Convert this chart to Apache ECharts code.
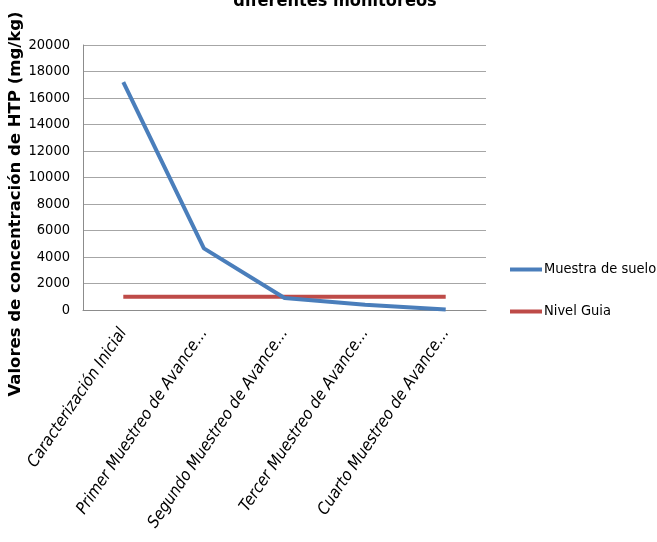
<!DOCTYPE html>
<html>
<head>
<meta charset="utf-8">
<script src="https://cdn.jsdelivr.net/npm/echarts@6/dist/echarts.min.js"></script>
<style>
  html, body { margin: 0; padding: 0; background: #fff; }
  #chart { width: 657px; height: 542px; }
</style>
</head>
<body>
<div id="chart"></div>
<script>
// Monitoring campaigns (category labels as they appear on the axis)
const categories = [
  'Caracterización Inicial',
  'Primer Muestreo de Avance…',
  'Segundo Muestreo de Avance…',
  'Tercer Muestreo de Avance…',
  'Cuarto Muestreo de Avance…'
];
// HTP concentration in the soil sample (mg/kg)
const muestraSuelo = [17200, 4650, 900, 400, 30];
// Guideline level (mg/kg)
const nivelGuia = [1000, 1000, 1000, 1000, 1000];
// Y axis ticks
const yTicks = [0, 2000, 4000, 6000, 8000, 10000, 12000, 14000, 16000, 18000, 20000];

const cond = '"DejaVu Sans Condensed", "DejaVu Sans", sans-serif';

const chart = echarts.init(document.getElementById('chart'), null, { renderer: 'canvas' });

chart.setOption({
  animation: false,
  backgroundColor: '#ffffff',
  title: {
    text: 'diferentes monitoreos',
    left: 330,
    textAlign: 'center',
    top: -13,
    textStyle: { fontFamily: cond, fontWeight: 'bold', fontSize: 18, color: '#000' }
  },
  grid: { left: 83, right: 171, top: 45, bottom: 232, containLabel: false },
  legend: {
    orient: 'vertical',
    left: 505,
    top: 257,
    itemGap: 27,
    itemWidth: 32,
    itemHeight: 4,
    icon: 'rect',
    textStyle: { fontFamily: cond, fontSize: 14.5, color: '#000', padding: [0, 0, 0, -3] },
    data: ['Muestra de suelo', 'Nivel Guia']
  },
  xAxis: {
    type: 'category',
    data: categories,
    boundaryGap: true,
    axisLine: { lineStyle: { color: '#8c8c8c', width: 1 } },
    axisTick: { show: false },
    axisLabel: {
      interval: 0,
      rotate: 56,
      margin: 20,
      fontFamily: cond,
      fontStyle: 'italic',
      fontSize: 16.5,
      color: '#000'
    }
  },
  yAxis: {
    type: 'value',
    min: yTicks[0],
    max: yTicks[yTicks.length - 1],
    interval: 2000,
    axisLine: { show: true, lineStyle: { color: '#8c8c8c', width: 1 } },
    axisTick: { show: false },
    splitLine: { lineStyle: { color: '#a6a6a6', width: 1 } },
    axisLabel: {
      margin: 13,
      fontFamily: cond,
      fontSize: 14.5,
      color: '#000',
      formatter: function (v) { return String(v); }
    }
  },
  graphic: [{
    type: 'text',
    x: 16,
    y: 204,
    rotation: Math.PI / 2,
    style: {
      text: 'Valores de concentración de HTP (mg/kg)',
      font: 'bold 16.5px "DejaVu Sans", sans-serif',
      fill: '#000',
      align: 'center',
      verticalAlign: 'middle'
    }
  }],
  series: [
    {
      name: 'Muestra de suelo',
      type: 'line',
      data: muestraSuelo,
      symbol: 'none',
      color: '#4a7ebb',
      lineStyle: { width: 4, color: '#4a7ebb' },
      z: 3
    },
    {
      name: 'Nivel Guia',
      type: 'line',
      data: nivelGuia,
      symbol: 'none',
      color: '#be4b48',
      lineStyle: { width: 4, color: '#be4b48' },
      z: 2
    }
  ]
});
</script>
</body>
</html>
